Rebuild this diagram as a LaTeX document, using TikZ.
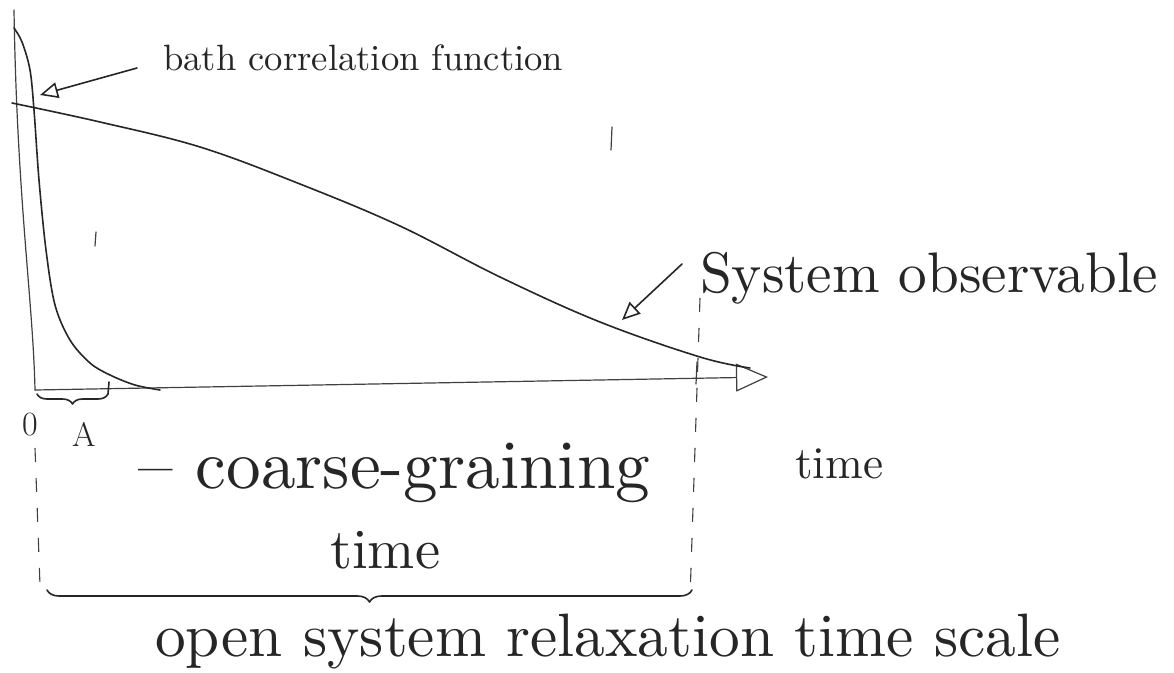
\documentclass[tikz,border=0pt]{standalone}
\usepackage{graphicx}
\usetikzlibrary{arrows.meta,decorations.pathreplacing}
\newcommand{\handtext}[2]{\resizebox{#1}{!}{#2}}
\begin{document}
\begin{tikzpicture}[x=1pt,y=-1pt,
  ink/.style={draw=black!85,line width=1.6pt,line cap=round,line join=round},
  faint/.style={draw=black!75,line width=1.2pt,line cap=round},
  dashmark/.style={draw=black!75,line width=1.1pt,dash pattern=on 14pt off 16pt},
  openhead/.style={-{Triangle[open,length=18pt,width=16pt]}},
  lbl/.style={inner sep=0pt,text=black!85}]
\useasboundingbox[fill=white] (0,0) rectangle (1174,672);

% axes
\coordinate (ytop) at (14,10);
\coordinate (origin) at (35,390);
\coordinate (xtip) at (768,377);
\draw[faint] (ytop) .. controls (17,200) and (33,300) .. (origin);
\draw[faint,-{Triangle[open,length=32pt,width=28pt]}] (origin) -- (xtip);

% bath correlation function curve
\draw[ink] plot[smooth,tension=0.55] coordinates {(14,28) (22,42) (30,70) (34,110) (39,180) (46,250) (55,305) (70,340) (90,363) (110,375) (135,385) (160,390)};

% system observable curve
\draw[ink] plot[smooth,tension=0.6] coordinates {(12,103) (100,122) (200,147) (300,184) (400,226) (500,277) (600,322) (700,357) (750,368)};

% stray ticks
\draw[faint] (697,362) -- (696,384);
\draw[faint] (612,127) -- (611,150);
\draw[faint] (96,232) -- (95,246);

% small brace (coarse-graining time)
\coordinate (sbl) at (37,394);
\coordinate (sbr) at (108,394);
\draw[ink,decorate,decoration={brace,mirror,amplitude=10pt}] (sbl) -- (sbr);
\draw[ink] (sbr) -- (109,382);

% dashed guide lines
\coordinate (ldt) at (35,448);
\coordinate (ldb) at (40,585);
\coordinate (rdt) at (700,298);
\coordinate (rdb) at (690,598);
\draw[dashmark] (ldt) -- (ldb);
\draw[dashmark] (rdt) -- (rdb);

% big brace
\coordinate (bbl) at (47,590);
\coordinate (bbr) at (692,590);
\draw[ink,decorate,decoration={brace,mirror,amplitude=12pt}] (bbl) -- (bbr);

% labels
\node[lbl,anchor=base west] (bath) at (163,70) {\handtext{400pt}{bath correlation function}};
\node[lbl,anchor=base west] (sysobs) at (700,292) {\handtext{458pt}{System observable}};
\node[lbl,anchor=base west] (timelbl) at (795,478) {\handtext{88pt}{time}};
\node[lbl,anchor=base west] (coarse) at (138,488) {\handtext{512pt}{-- coarse-graining}};
\node[lbl,anchor=base west] (coarse2) at (330,568) {\handtext{110pt}{time}};
\node[lbl,anchor=base west] (relax) at (155,656) {\handtext{905pt}{open system relaxation time scale}};
\node[lbl,font=\fontsize{34}{36}\selectfont] (zero) at (30,425) {0};
\node[lbl,font=\fontsize{34}{36}\selectfont] (tau) at (84,434) {A};

% label arrows
\coordinate (bathtail) at (137,68);
\coordinate (bathtip) at (40,95);
\draw[ink,openhead] (bathtail) -- (bathtip);
\coordinate (systail) at (682,264);
\coordinate (systip) at (622,320);
\draw[ink,openhead] (systail) -- (systip);
\end{tikzpicture}
\end{document}
